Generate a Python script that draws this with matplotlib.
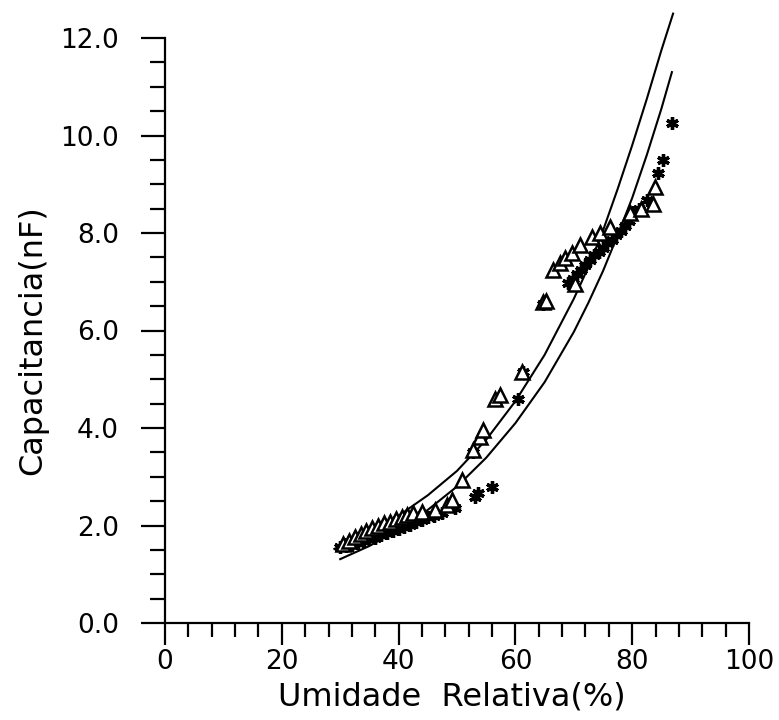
import matplotlib
matplotlib.use("Agg")
import matplotlib.pyplot as plt
from matplotlib.ticker import MultipleLocator, FormatStrFormatter

# Fitted curves
upper_x = [29, 35, 40, 45, 50, 55, 60, 65, 70, 72.5, 75, 77.5, 80, 82.5, 85, 87]
upper_y = [1.52, 1.86, 2.20, 2.62, 3.12, 3.76, 4.55, 5.50, 6.65, 7.30, 8.05, 8.90,
           9.80, 10.75, 11.75, 12.5]
lower_x = [30, 35, 40, 45, 50, 55, 60, 65, 70, 72.5, 75, 77.5, 80, 82.5, 85, 86.8]
lower_y = [1.31, 1.58, 1.92, 2.32, 2.80, 3.39, 4.10, 4.94, 5.97, 6.57, 7.22, 7.95,
           8.72, 9.60, 10.55, 11.3]

# Triangle data
tri_x = [30.5, 31.5, 32.5, 33.5, 34.5, 35.5, 36.5, 37.5, 38.5, 39.5, 40.5, 41.5,
         42.5, 44.0, 46.2, 48.3, 49.1, 50.9, 52.7, 53.9, 54.5, 56.5, 57.4, 61.1,
         64.7, 65.2, 66.4, 67.6, 68.5, 69.7, 70.2, 71.1, 73.1, 74.5, 76.2, 79.6,
         81.5, 83.6, 83.9]
tri_y = [1.62, 1.68, 1.76, 1.83, 1.88, 1.95, 1.98, 2.05, 2.08, 2.13, 2.18, 2.22,
         2.26, 2.28, 2.32, 2.42, 2.52, 2.93, 3.55, 3.82, 3.96, 4.60, 4.68, 5.15,
         6.58, 6.60, 7.24, 7.38, 7.49, 7.59, 6.95, 7.75, 7.92, 8.00, 8.12, 8.41,
         8.50, 8.60, 8.95]

# Asterisk data
ast_x = [30, 31, 32, 33, 34, 35, 36, 37, 38, 39, 40, 41, 42, 43, 44, 45, 46, 47.5,
         31.5, 33.5, 35.5, 37.5, 39.5, 41.5, 43.5,
         49.7, 53.0, 53.6, 56.0, 52.7, 60.4, 61.3, 64.7, 69.0, 69.8, 70.5, 71.2,
         72.0, 72.8, 73.5, 74.3, 75.0, 75.7, 76.5, 77.3, 78.0, 78.8, 79.5, 80.1,
         81.2, 82.5, 84.4, 85.3, 86.8]
ast_y = [1.55, 1.58, 1.60, 1.65, 1.68, 1.72, 1.75, 1.80, 1.85, 1.88, 1.92, 1.97,
         2.02, 2.08, 2.12, 2.18, 2.20, 2.25,
         1.66, 1.74, 1.84, 1.92, 2.00, 2.10, 2.18,
         2.36, 2.58, 2.67, 2.79, 3.50, 4.60, 5.15, 6.55, 6.97, 7.05, 7.15, 7.25,
         7.35, 7.45, 7.55, 7.62, 7.70, 7.80, 7.85, 7.95, 8.05, 8.15, 8.25, 8.43,
         8.50, 8.68, 9.23, 9.50, 10.26]

x_label = "Umidade  Relativa(%)"
y_label = "Capacitancia(nF)"

plt.rcParams['font.family'] = ['DejaVu Sans']

fig = plt.figure(figsize=(7.79, 7.2), dpi=100)
ax = fig.add_axes([165 / 779, 1 - 623 / 720, 584 / 779, 585 / 720])

ax.plot(upper_x, upper_y, color='black', lw=1.5, clip_on=False)
ax.plot(lower_x, lower_y, color='black', lw=1.5, clip_on=False)
ax.plot(ast_x, ast_y, linestyle='none', marker=(6, 2, 0), markersize=9,
        markeredgewidth=2.4, color='black')
ax.plot(tri_x, tri_y, linestyle='none', marker='^', markersize=10,
        markerfacecolor='white', markeredgecolor='black', markeredgewidth=1.8)

ax.set_xlim(0, 100)
ax.set_ylim(0, 12)
for s in ['top', 'right']:
    ax.spines[s].set_visible(False)
for s in ['left', 'bottom']:
    ax.spines[s].set_linewidth(1.6)

ax.xaxis.set_major_locator(MultipleLocator(20))
ax.xaxis.set_minor_locator(MultipleLocator(4))
ax.yaxis.set_major_locator(MultipleLocator(2))
ax.yaxis.set_minor_locator(MultipleLocator(0.5))
ax.yaxis.set_major_formatter(FormatStrFormatter('%.1f'))

ax.tick_params(axis='x', which='major', direction='out', length=16, width=1.6,
               labelsize=19, pad=3)
ax.tick_params(axis='x', which='minor', direction='out', length=10, width=1.6)
ax.tick_params(axis='y', which='major', direction='out', length=17, width=1.6,
               labelsize=19, pad=16)
ax.tick_params(axis='y', which='minor', direction='out', length=11, width=1.6)

fig.text(33 / 779, 1 - 340 / 720, y_label, rotation=90, ha='center', va='center',
         fontsize=23)
fig.text(452 / 779, 1 - 697 / 720, x_label, ha='center', va='center', fontsize=23)

fig.savefig('out.png', dpi=100, facecolor='white')
